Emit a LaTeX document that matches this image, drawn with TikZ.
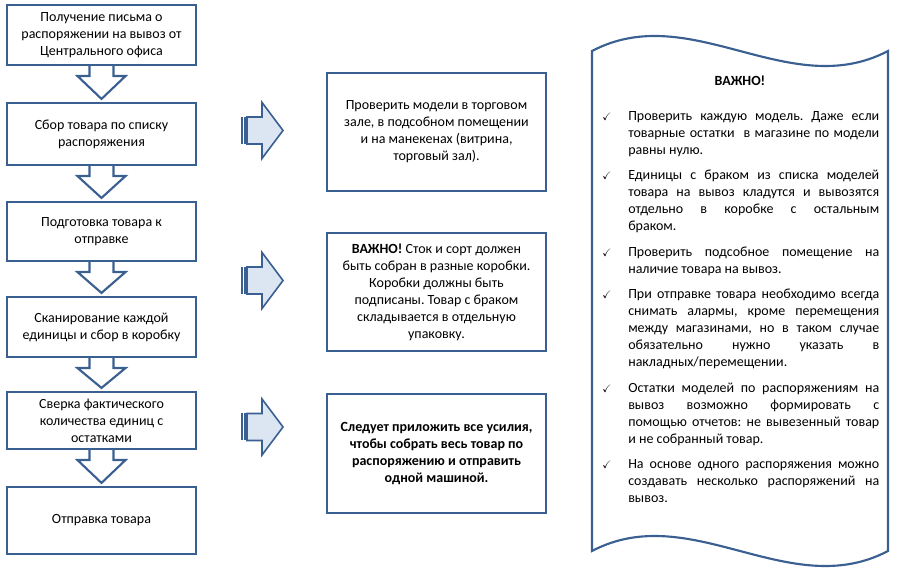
\documentclass[tikz,border=0pt]{standalone}
\usepackage{fontspec}
\setmainfont{Carlito}
\usepackage{amssymb}
\usetikzlibrary{calc,positioning}

\definecolor{lineblue}{RGB}{58,95,145}
\definecolor{paleblue}{RGB}{220,230,242}

\tikzset{
  stepbox/.style={draw=lineblue, line width=1.6pt, align=center, minimum width=141.75pt, inner sep=2pt},
  notebox/.style={draw=lineblue, line width=1.6pt, align=center, minimum width=164.25pt, minimum height=88.5pt},
  downarrow/.style={draw=lineblue, line width=1.6pt, line join=miter},
  sidearrow/.style={draw=lineblue, line width=1.2pt, fill=paleblue, line join=miter},
  scrollline/.style={draw=lineblue, line width=1.6pt},
  bullettext/.style={anchor=north west, inner sep=0pt, text width=188.25pt, align=justify},
}

% down arrow from one step box to the next
\newcommand\stepdown[2]{%
  \coordinate (s) at ($(#1.south)+(0,10)$);
  \coordinate (t) at ($(#2.north)+(0,-3)$);
  \draw[downarrow] ($(#1.south)+(-12,0)$) -- ($(s)+(-12,0)$) -- ($(s)+(-24,0)$) -- (t)
    -- ($(s)+(24,0)$) -- ($(s)+(12,0)$) -- ($(#1.south)+(12,0)$);
}

% striped right arrow, #1 = y of its axis
\newcommand\stripearrow[1]{%
  \draw[sidearrow] (247,#1-13.5) -- (262,#1-13.5) -- (262,#1-28) -- (283,#1)
    -- (262,#1+28) -- (262,#1+13.5) -- (247,#1+13.5) -- cycle;
  \fill[lineblue] (241,#1-13.5) rectangle (242.5,#1+13.5);
  \fill[lineblue] (243.5,#1-13.5) rectangle (247.5,#1+13.5);
}

\newcommand\okmark{\makebox[0pt][r]{\footnotesize$\checkmark$\hspace{12.75pt}}}

\frenchspacing

\begin{document}
\begin{tikzpicture}[x=0.75pt, y=-0.75pt, font=\fontsize{10.5}{12.75}\selectfont]
      \useasboundingbox (0,0) rectangle (900,573);

      % steps of the procedure
      \node[stepbox, minimum height=45pt] (b1) at (101.5,35) {Получение письма о\\распоряжении на вывоз от\\Центрального офиса};
      \node[stepbox, minimum height=46.5pt] (b2) at (101.5,134) {Сбор товара по списку\\распоряжения};
      \node[stepbox, minimum height=44.25pt] (b3) at (101.5,231.5) {Подготовка товара к\\отправке};
      \node[stepbox, minimum height=45pt] (b4) at (101.5,327) {Сканирование каждой\\единицы и сбор в коробку};
      \node[stepbox, minimum height=42.75pt] (b5) at (101.5,420.5) {Сверка фактического\\количества единиц с\\остатками};
      \node[stepbox, minimum height=50.25pt] (b6) at (101.5,520.5) {Отправка товара};

      \foreach \a/\b in {b1/b2,b2/b3,b3/b4,b4/b5,b5/b6}
        \stepdown{\a}{\b};

      % notes in the middle
      \stripearrow{130.5}
      \stripearrow{280.5}
      \stripearrow{427}

      \node[notebox] (chk) at (436.5,132) {Проверить модели в торговом\\зале, в подсобном помещении\\и на манекенах (витрина,\\торговый зал).};
      \node[notebox] (pack) at (436.5,292) {\textbf{ВАЖНО!} Сток и сорт должен\\быть собран в разные коробки.\\Коробки должны быть\\подписаны. Товар с браком\\складывается в отдельную\\упаковку.};
      \node[notebox, minimum height=89.25pt, font=\fontsize{10.5}{12.75}\selectfont\bfseries] (ship) at (436.5,453.5) {Следует приложить все усилия,\\чтобы собрать весь товар по\\распоряжению и отправить\\одной машиной.};

      % scroll with the rules
      \draw[scrollline] (592,51) .. controls (691,-1) and (789,103) .. (888,51) -- (888,551)
        .. controls (789,603) and (691,499) .. (592,551) -- cycle;

      \node[font=\fontsize{10.5}{12.75}\selectfont\bfseries] (imp) at (740,81) {ВАЖНО!};
      \node[bullettext] (imp1) at (628,108) {\strut\okmark Проверить каждую модель. Даже если\linebreak товарные остатки\ \ в магазине по модели\linebreak равны нулю.\strut};
      \node[bullettext, below=6pt of imp1.south west, anchor=north west] (imp2) {\strut\okmark Единицы с браком из списка моделей\linebreak товара на вывоз кладутся и вывозятся\linebreak отдельно в коробке с остальным\linebreak браком.\strut};
      \node[bullettext, below=6pt of imp2.south west, anchor=north west] (imp3) {\strut\okmark Проверить подсобное помещение на\linebreak наличие товара на вывоз.\strut};
      \node[bullettext, below=6pt of imp3.south west, anchor=north west] (imp4) {\strut\okmark При отправке товара необходимо всегда\linebreak снимать алармы, кроме перемещения\linebreak между магазинами, но в таком случае\linebreak обязательно нужно указать в\linebreak накладных/перемещении.\strut};
      \node[bullettext, below=6pt of imp4.south west, anchor=north west] (imp5) {\strut\okmark Остатки моделей по распоряжениям на\linebreak вывоз возможно формировать с\linebreak помощью отчетов: не вывезенный товар\linebreak и не собранный товар.\strut};
      \node[bullettext, below=6pt of imp5.south west, anchor=north west] (imp6) {\strut\okmark На основе одного распоряжения можно\linebreak создавать несколько распоряжений на\linebreak вывоз.\strut};
    \end{tikzpicture}
\end{document}
